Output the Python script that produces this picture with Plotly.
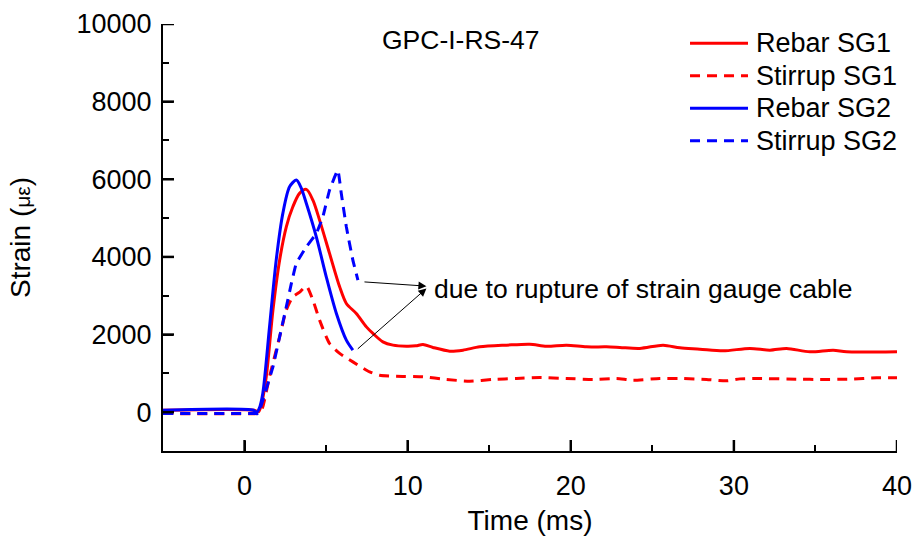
import plotly.graph_objects as go

# ---- data (time in ms, strain in microstrain) ----
t_rebar1 = [-5, 0.6, 0.85, 1.0, 1.33, 1.74, 2.15, 2.56, 2.96, 3.37, 3.79, 4.19, 4.60, 5.21, 5.83,
            6.24, 6.85, 7.47, 7.87, 8.48, 9.10, 9.92, 10.5, 10.94, 11.55, 12.58, 13.39, 14.42,
            16.06, 17.48, 18.51, 19.74, 20.96, 22.19, 23.01, 24.23, 25.66, 26.69, 27.91, 29.34,
            30.98, 32.21, 33.23, 34.66, 36.09, 36.91, 40]
s_rebar1 = [50, 50, 10, 150, 910, 2629, 3917, 4775, 5291, 5636, 5739, 5463, 4948, 4090, 3229,
            2801, 2543, 2198, 2028, 1812, 1727, 1701, 1710, 1745, 1667, 1572, 1598, 1683,
            1727, 1752, 1701, 1727, 1683, 1683, 1667, 1642, 1727, 1657, 1624, 1580,
            1642, 1598, 1642, 1554, 1598, 1554, 1560]

t_stirrup1 = [-5, 0.8, 0.95, 1.12, 1.53, 2.15, 2.56, 2.96, 3.4, 3.79, 4.19, 4.60, 5.21, 5.83,
              6.64, 7.67, 8.28, 9.31, 10.94, 12.37, 13.80, 15.23, 16.67, 18.10, 19.74, 21.37,
              22.80, 23.82, 25.46, 26.89, 28.32, 29.55, 30.37, 31.39, 34.05, 35.28, 37.12,
              38.75, 40]
s_stirrup1 = [-35, -35, -20, 137, 910, 1940, 2629, 2971, 3100, 3247, 2886, 2371, 1770, 1513,
              1296, 1039, 953, 928, 910, 843, 799, 843, 868, 894, 868, 843,
              868, 825, 868, 868, 843, 807, 858, 868, 850, 843, 850,
              884, 884]

t_rebar2 = [-5, 0.55, 0.72, 0.9, 1.12, 1.53, 1.94, 2.35, 2.76, 3.17, 3.45, 3.79, 4.40, 5.01,
            5.63, 6.24, 6.64]
s_rebar2 = [50, 50, -8, 100, 490, 2198, 3917, 5128, 5806, 5979, 5800, 5378, 4518, 3487,
            2543, 1855, 1598]

t_stirrup2 = [-5, 0.6, 0.85, 1.12, 1.74, 2.15, 2.56, 2.87, 3.17, 3.79, 4.40, 4.80, 5.21, 5.72,
              5.93, 6.24, 6.64, 6.95]
s_stirrup2 = [-35, -35, -35, 309, 1167, 1940, 2714, 3317, 3832, 4260, 4605, 5033, 5721, 6236,
              5636, 4775, 3917, 3402]

series_names = ["Rebar SG1", "Stirrup SG1", "Rebar SG2", "Stirrup SG2"]

x_major_ticks = [0, 10, 20, 30, 40]
y_major_ticks = [0, 2000, 4000, 6000, 8000, 10000]

X_RANGE = [-5, 40]
Y_RANGE = [-1000, 10000]

FONT = "Liberation Sans, Arial, sans-serif"
RED = "#FF0000"
BLUE = "#0000FF"
DASH = "10px,7px"
LW = 3

series = [
    (t_rebar1, s_rebar1, RED, "solid", 0.8),
    (t_stirrup1, s_stirrup1, RED, DASH, 0.6),
    (t_rebar2, s_rebar2, BLUE, "solid", 0.8),
    (t_stirrup2, s_stirrup2, BLUE, DASH, 0.3),
]

fig = go.Figure()
for name, (tx, sy, col, dash, sm) in zip(series_names, series):
    fig.add_trace(go.Scatter(x=tx, y=sy, mode="lines", name=name, showlegend=False,
                             line=dict(color=col, width=LW, dash=dash, shape="spline",
                                       smoothing=sm)))

axis_common = dict(showline=True, linecolor="black", linewidth=2, ticks="inside",
                   ticklen=10, tickwidth=2, tickcolor="black", showgrid=False,
                   zeroline=False, mirror=False, automargin=False, tickmode="array",
                   tickformat="d",
                   tickfont=dict(family=FONT, size=27, color="black"))

fig.update_xaxes(range=X_RANGE, tickvals=x_major_ticks, ticklabelstandoff=10,
                 minor=dict(dtick=5, tick0=0, ticks="inside", ticklen=6, tickwidth=2,
                            tickcolor="black", showgrid=False),
                 title=dict(text="Time (ms)", font=dict(family=FONT, size=28, color="black"),
                            standoff=10),
                 **axis_common)
fig.update_yaxes(range=Y_RANGE, tickvals=y_major_ticks, ticklabelstandoff=4,
                 minor=dict(dtick=1000, tick0=0, ticks="inside", ticklen=6, tickwidth=2,
                            tickcolor="black", showgrid=False),
                 title=dict(text="Strain (<span style='font-size:21px'>με</span>)",
                            font=dict(family=FONT, size=28, color="black"), standoff=38),
                 **axis_common)

# major tick marks (inside), drawn through the axes' own scales
PLOT_W, PLOT_H = 916 - 163 - 19, 541 - 24 - 90
MAJ_LEN = 11
for v in x_major_ticks:
    fig.add_shape(type="line", xref="x", yref="y domain", x0=v, x1=v, y0=0,
                  y1=MAJ_LEN / PLOT_H, line=dict(color="black", width=2.5), layer="above")
for v in y_major_ticks:
    fig.add_shape(type="line", xref="x domain", yref="y", x0=0, x1=MAJ_LEN / PLOT_W,
                  y0=v, y1=v, line=dict(color="black", width=2.5), layer="above")

# custom legend (line samples + labels) in plot-area fractions
leg_rows = [0.9548, 0.8789, 0.8026, 0.7267]
for name, (tx, sy, col, dash, sm), ry in zip(series_names, series, leg_rows):
    fig.add_shape(type="line", xref="paper", yref="paper", x0=0.718, x1=0.797, y0=ry, y1=ry,
                  line=dict(color=col, width=LW, dash=dash))
    fig.add_annotation(x=0.805, y=ry, xref="paper", yref="paper", xanchor="left",
                       yanchor="middle", text=name, showarrow=False,
                       font=dict(family=FONT, size=27, color="black"))

# annotation arrows
fig.add_annotation(x=11.15, y=3247, ax=7.26, ay=3358, xref="x", yref="y", axref="x", ayref="y",
                   text="", showarrow=True, arrowhead=2, arrowsize=1.6, arrowwidth=1,
                   arrowcolor="black", standoff=0, startstandoff=0)
fig.add_annotation(x=11.15, y=3188, ax=6.85, ay=1598, xref="x", yref="y", axref="x", ayref="y",
                   text="", showarrow=True, arrowhead=2, arrowsize=1.6, arrowwidth=1,
                   arrowcolor="black", standoff=0, startstandoff=0)
fig.add_annotation(x=11.5, y=3170, xref="x", yref="y", xanchor="left", yanchor="middle",
                   text="due to rupture of strain gauge cable", showarrow=False,
                   font=dict(family=FONT, size=26.5, color="black"))
fig.add_annotation(x=13.25, y=0.9625, xref="x", yref="paper", xanchor="center", yanchor="middle",
                   text="GPC-I-RS-47", showarrow=False,
                   font=dict(family=FONT, size=26.5, color="black"))

fig.update_layout(
    width=916, height=541,
    margin=dict(l=163, r=19, t=24, b=90),
    plot_bgcolor="white", paper_bgcolor="white",
    font=dict(family=FONT, color="black"),
    showlegend=False,
)

fig.write_html("out.html")
